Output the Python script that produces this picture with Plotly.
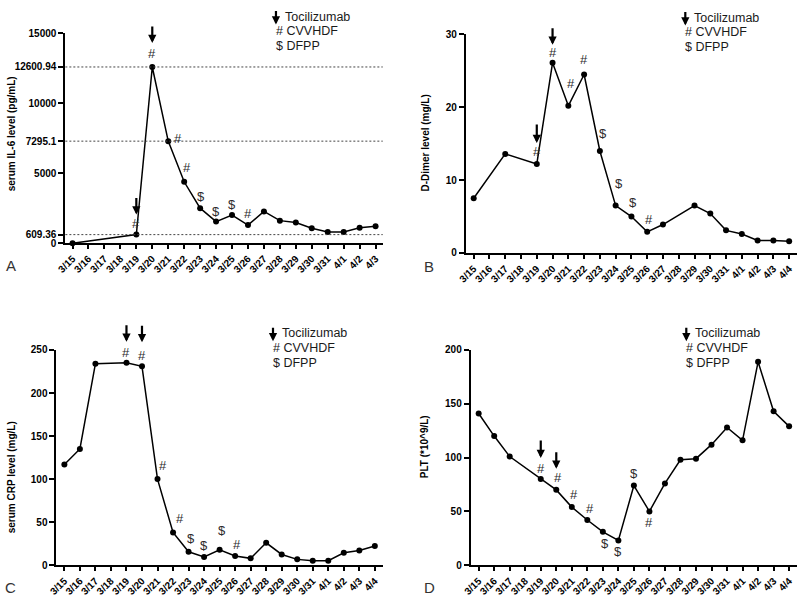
import plotly.graph_objects as go

# ---------------- data ----------------
dates_A = ["3/15", "3/16", "3/17", "3/18", "3/19", "3/20", "3/21", "3/22", "3/23", "3/24",
           "3/25", "3/26", "3/27", "3/28", "3/29", "3/30", "3/31", "4/1", "4/2", "4/3"]
dates = dates_A + ["4/4"]

il6 = [0, None, None, None, 609.36, 12600.94, 7295.1, 4390, 2500, 1540,
       2010, 1290, 2270, 1610, 1470, 1070, 790, 790, 1100, 1210]
ddimer = [7.5, None, 13.6, None, 12.2, 26.1, 20.2, 24.5, 14.0, 6.5,
          5.0, 2.9, 3.9, None, 6.5, 5.4, 3.1, 2.6, 1.7, 1.7, 1.6]
crp = [117, 135, 234, None, 235, 231, 100, 38, 15.6, 9.5,
       18, 10.7, 8, 26, 12.5, 6.8, 5.3, 5.3, 14.4, 17, 22.4]
plt_vals = [141, 120, 101, None, 80, 70, 54, 42, 31, 23,
            74, 50, 76, 98, 99, 112, 128, 116, 189, 143, 129]

il6_tickvals = [0, 609.36, 5000, 7295.1, 10000, 12600.94, 15000]
il6_ticktext = ["0", "609.36", "5000", "7295.1", "10000", "12600.94", "15000"]
il6_refs = [609.36, 7295.1, 12600.94]

titles = ["serum IL-6 level (pg/mL)", "D-Dimer level (mg/L)",
          "serum CRP level (mg/L)", "PLT (*10^9/L)"]
letters = ["A", "B", "C", "D"]
DOLLAR = "&#36;"
legend_items = ["Tocilizumab", "# CVVHDF", DOLLAR + " DFPP"]

# treatment events: Tocilizumab arrows and CVVHDF(#)/DFPP($) marks
toci = [["3/19", "3/20"], ["3/19", "3/20"], ["3/19", "3/20"], ["3/19", "3/20"]]
events = [("3/19", "#"), ("3/20", "#"), ("3/21", "#"), ("3/22", "#"),
          ("3/23", "$"), ("3/24", "$"), ("3/25", "$"), ("3/26", "#")]
marks = [events, events, events, events]

# ---------------- styling / layout (pixel geometry) ----------------
W, H = 800, 597
mark_offsets = [
    [(0, 11), (0, 13), (10, 3), (3, 14), (1, 12), (0, 10), (0, 11), (0, 12)],
    [(0, 13), (0, 10), (3, 22), (0, 15), (3, 17), (3, 22), (2, 14), (2, 12)],
    [(0, 10), (0, 11), (5, 14), (7, 14), (2, 13), (0, 12), (2, 19), (2, 12)],
    [(0, 11), (2, 12), (2, 13), (3, 12), (2, -12), (0, -11), (0, 12), (0, -11)],
]
arrow_geo = [  # (standoff, tail offset) in px
    [(20, 38), (24, 42)],
    [(21, 41), (18, 36)],
    [(21, 39), (24, 42)],
    [(21, 40), (21, 39)],
]
# panel geometry: x-left, x-right, y-top(px), y-bottom(px)
geo = [(57, 378, 28, 242), (462, 797, 29, 252), (48, 378, 351, 570.7), (467, 797, 351, 570.7)]
xranges = [[-0.45, 19.45], [-0.5, 20.5], [-0.51, 20.51], [-0.51, 20.51]]
yranges = [[0, 15000], [0, 30], [0, 250], [0, 200]]
title_pos = [(2, 130), (421, 140), (2, 481), (421, 450)]
letter_pos = [(2, 265), (425, 266), (2, 593), (425, 593)]
legend_pos = [(270, 11), (684, 12), (267, 334), (685, 334)]

FONT = "Liberation Sans, Arial, sans-serif"
series = [(dates_A, il6), (dates, ddimer), (dates, crp), (dates, plt_vals)]

fig = go.Figure()
annotations = []
shapes = []

for i in range(4):
    sx = "" if i == 0 else str(i + 1)
    xa, ya = "x" + sx, "y" + sx
    xl, xr, yt, yb = geo[i]
    cats, vals = series[i]
    fig.add_trace(go.Scatter(
        x=cats, y=vals, mode="lines+markers", connectgaps=True,
        line=dict(color="black", width=1.5),
        marker=dict(color="black", size=6),
        cliponaxis=False, xaxis=xa, yaxis=ya, showlegend=False, hoverinfo="x+y"))

    xaxis = dict(domain=[xl / W, xr / W], anchor=ya, type="category",
                 categoryorder="array", categoryarray=cats, range=xranges[i],
                 showline=True, linecolor="black", linewidth=2, mirror=False,
                 ticks="outside", ticklen=4, tickwidth=1.5, tickcolor="black",
                 tickangle=-45, showgrid=False, zeroline=False,
                 tickfont=dict(family=FONT, size=10, color="black", weight="bold"))
    yaxis = dict(domain=[(H - yb) / H, (H - yt) / H], anchor=xa, range=yranges[i],
                 showline=True, linecolor="black", linewidth=2,
                 ticks="outside", ticklen=5, tickwidth=1.5, tickcolor="black",
                 showgrid=False, zeroline=False,
                 tickfont=dict(family=FONT, size=10, color="black", weight="bold"))
    if i == 0:
        yaxis.update(tickmode="array", tickvals=il6_tickvals, ticktext=il6_ticktext)
    else:
        yaxis.update(dtick=[10, 10, 50, 50][i])
    fig.update_layout(**{"xaxis" + sx: xaxis, "yaxis" + sx: yaxis})

    lookup = dict(zip(cats, vals))
    # Tocilizumab arrows
    for (c, (so, tail)) in zip(toci[i], arrow_geo[i]):
        annotations.append(dict(x=c, y=lookup[c], xref=xa, yref=ya, text="",
                                showarrow=True, arrowhead=2, arrowsize=0.75,
                                arrowwidth=2.2, arrowcolor="black",
                                ax=0, ay=-tail, standoff=so))
    # treatment marks
    for ((c, sym), (dx, dy)) in zip(marks[i], mark_offsets[i]):
        txt = DOLLAR if sym == "$" else sym
        annotations.append(dict(x=c, y=lookup[c], xref=xa, yref=ya, text=txt,
                                showarrow=False, xshift=dx, yshift=dy,
                                font=dict(family=FONT, size=13, color="#2a2a2a")))
    # reference lines (panel A)
    if i == 0:
        for v in il6_refs:
            shapes.append(dict(type="line", xref="x domain", yref="y",
                               x0=0, x1=1, y0=v, y1=v,
                               line=dict(color="#444444", width=1, dash="2px,2px")))
    # y titles
    tx, ty = title_pos[i]
    annotations.append(dict(x=tx / W, y=(H - ty) / H, xref="paper", yref="paper",
                            text=titles[i], textangle=-90, showarrow=False,
                            xanchor="center", yanchor="middle",
                            font=dict(family=FONT, size=10, color="black", weight="bold")))
    # panel letter
    lx, ly = letter_pos[i]
    annotations.append(dict(x=lx / W, y=(H - ly) / H, xref="paper", yref="paper",
                            text=letters[i], showarrow=False, xanchor="center", yanchor="middle",
                            font=dict(family=FONT, size=15, color="#333333")))
    # legend
    gx, gy = legend_pos[i]
    annotations.append(dict(x=gx / W, y=(H - gy - 8) / H, xref="paper", yref="paper",
                            text="", showarrow=True, arrowhead=2, arrowsize=0.75,
                            arrowwidth=2.2, arrowcolor="black", ax=0, ay=-15, standoff=0))
    annotations.append(dict(x=(gx + 7) / W, y=(H - gy) / H, xref="paper", yref="paper",
                            text=legend_items[0], showarrow=False, xanchor="left", yanchor="middle",
                            font=dict(family=FONT, size=12.5, color="#1a1a1a")))
    for k, item in enumerate(legend_items[1:]):
        annotations.append(dict(x=(gx - 2) / W, y=(H - gy - 15 * (k + 1)) / H,
                                xref="paper", yref="paper", text=item, showarrow=False,
                                xanchor="left", yanchor="middle",
                                font=dict(family=FONT, size=12.5, color="#1a1a1a")))

fig.update_layout(width=W, height=H, margin=dict(l=0, r=0, t=0, b=0),
                  paper_bgcolor="white", plot_bgcolor="white",
                  annotations=annotations, shapes=shapes, showlegend=False)

fig.write_html("out.html", config={"displayModeBar": False},
               post_script="document.body.style.margin='0px';document.body.style.overflow='hidden';")
